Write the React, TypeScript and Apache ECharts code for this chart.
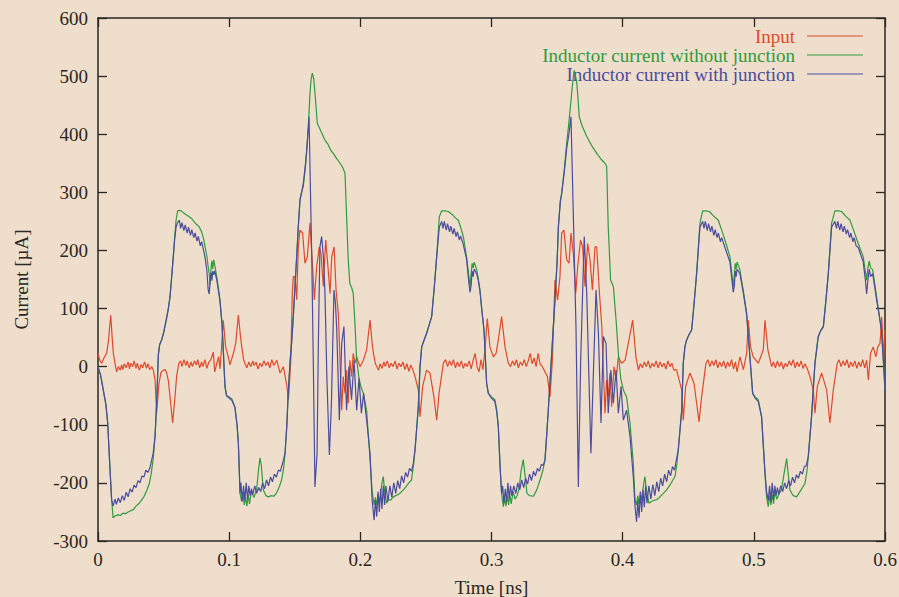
import React, { useEffect, useRef } from "react";
import * as echarts from "echarts";

const xTicks = [0, 0.1, 0.2, 0.3, 0.4, 0.5, 0.6];
const yTicks = [-300, -200, -100, 0, 100, 200, 300, 400, 500, 600];
const seriesNames = ["Input", "Inductor current without junction", "Inductor current with junction"];
const seriesColors = ["#de4a2c", "#2f9c3c", "#4a4c9c"];

const inputData: number[][] = [
  [0,23],[0.0015,10],[0.0028,6],[0.0045,15],[0.0066,23],[0.008,45],[0.0097,89],[0.0108,50],[0.0117,23],[0.013,5],[0.0142,-9],[0.0155,0],[0.017,-6],[0.018,3],[0.019,-5],[0.020,5],[0.0215,-2],[0.023,8],[0.024,-4],[0.025,6],[0.0265,0],[0.0275,10],[0.029,-3],[0.030,6],[0.0315,-6],[0.033,4],[0.034,-2],[0.0355,8],[0.037,-3],[0.038,5],[0.0395,-5],[0.041,0],[0.0422,-6],[0.0435,-23],[0.0447,-80],[0.0465,-29],[0.048,-10],[0.0498,-6],[0.0512,-5],[0.0524,-11],[0.0537,-25],[0.0549,-52],[0.0569,-97],[0.0587,-52],[0.060,-15],[0.0617,6],[0.063,10],[0.064,0],[0.0655,12],[0.067,2],[0.068,10],[0.0695,-2],[0.071,8],[0.072,0],[0.0735,10],[0.075,3],[0.076,12],[0.0775,-2],[0.079,8],[0.080,0],[0.0815,12],[0.083,-3],[0.0845,8],[0.086,12],[0.0879,25],[0.089,-9],[0.0905,5],[0.092,17],[0.093,-4],[0.0941,29],[0.0955,80],[0.0973,34],[0.0993,17],[0.1006,3],[0.1032,23],[0.105,40],[0.107,89],[0.1085,55],[0.1096,34],[0.111,12],[0.112,6],[0.1135,-2],[0.115,8],[0.1165,0],[0.118,10],[0.119,2],[0.1205,8],[0.122,-4],[0.1235,6],[0.125,0],[0.1265,10],[0.128,2],[0.1295,8],[0.131,-2],[0.1325,12],[0.134,2],[0.1363,11],[0.1388,-11],[0.1413,0],[0.1439,-32],[0.1452,-57],[0.147,11],[0.1481,126],[0.1489,155],[0.1502,155],[0.1515,115],[0.1527,206],[0.154,235],[0.156,230],[0.1578,178],[0.1596,189],[0.1616,247],[0.1636,172],[0.1649,115],[0.1667,172],[0.1687,206],[0.170,195],[0.1718,138],[0.1736,218],[0.1751,178],[0.1769,126],[0.1782,189],[0.180,206],[0.1815,132],[0.1832,92],[0.1845,11],[0.1858,-75],[0.187,-17],[0.1883,-46],[0.1895,-6],[0.1908,-63],[0.192,11],[0.1933,-17],[0.1946,23],[0.1959,6],[0.1972,17],[0.1997,0],[0.2023,11],[0.2048,29],[0.2074,80],[0.209,40],[0.210,23],[0.2115,5],[0.2139,-6],[0.215,5],[0.2165,-3],[0.218,8],[0.219,0],[0.2205,10],[0.222,-2],[0.2235,6],[0.225,0],[0.2265,10],[0.228,-4],[0.2295,6],[0.231,0],[0.2325,8],[0.234,-5],[0.2355,5],[0.237,-8],[0.2385,3],[0.240,-5],[0.2417,-17],[0.2442,-40],[0.2455,-86],[0.2475,-34],[0.2505,-6],[0.2531,-11],[0.2561,-52],[0.2582,-92],[0.260,-46],[0.2633,6],[0.265,12],[0.2665,0],[0.268,10],[0.2695,2],[0.271,12],[0.2725,-2],[0.274,8],[0.2755,0],[0.277,10],[0.2785,-3],[0.280,6],[0.2815,0],[0.283,10],[0.2845,-4],[0.286,11],[0.2875,23],[0.289,0],[0.2905,-9],[0.292,12],[0.2935,-5],[0.295,29],[0.2968,83],[0.2988,34],[0.3014,17],[0.3035,23],[0.3052,46],[0.3077,86],[0.3103,34],[0.3128,6],[0.3145,0],[0.316,10],[0.3175,2],[0.319,12],[0.3205,-2],[0.322,8],[0.3235,2],[0.325,12],[0.3265,0],[0.328,10],[0.3295,23],[0.331,5],[0.3325,15],[0.334,0],[0.3355,23],[0.337,5],[0.3388,0],[0.3426,-17],[0.3446,-52],[0.3464,11],[0.3484,149],[0.3504,115],[0.3522,155],[0.3535,230],[0.3552,235],[0.3573,184],[0.3591,178],[0.3606,230],[0.3624,195],[0.3642,126],[0.3657,172],[0.3679,218],[0.3695,206],[0.3713,138],[0.3733,212],[0.3751,184],[0.3769,132],[0.3789,206],[0.3802,206],[0.3823,126],[0.3841,69],[0.3853,-6],[0.3865,-80],[0.3878,-23],[0.389,-52],[0.3903,-11],[0.3916,-69],[0.3934,0],[0.395,-23],[0.3967,17],[0.3992,6],[0.4018,11],[0.4043,40],[0.4076,80],[0.4101,17],[0.412,-6],[0.4135,5],[0.415,-2],[0.4165,8],[0.418,0],[0.4195,10],[0.421,-3],[0.4225,6],[0.424,0],[0.4255,10],[0.427,-2],[0.4285,8],[0.430,0],[0.4315,6],[0.433,-4],[0.4345,10],[0.436,0],[0.4375,6],[0.439,-6],[0.441,-5],[0.4424,-17],[0.445,-40],[0.4462,-92],[0.448,-34],[0.4513,-11],[0.4544,-29],[0.4564,-63],[0.4582,-95],[0.4602,-52],[0.4635,6],[0.465,12],[0.4665,0],[0.468,10],[0.4695,2],[0.471,12],[0.4725,-2],[0.474,8],[0.4755,0],[0.477,10],[0.4785,-3],[0.480,8],[0.4815,0],[0.483,12],[0.4845,-4],[0.486,8],[0.4872,-9],[0.4894,17],[0.492,-5],[0.4945,23],[0.4958,80],[0.4975,34],[0.4995,17],[0.5034,6],[0.5072,29],[0.5085,80],[0.5107,29],[0.5136,0],[0.515,8],[0.5165,-2],[0.518,10],[0.5195,0],[0.521,8],[0.5225,-4],[0.524,6],[0.5255,0],[0.527,10],[0.5285,2],[0.530,12],[0.5315,-2],[0.533,8],[0.5345,0],[0.536,10],[0.5375,-3],[0.539,5],[0.541,-5],[0.5428,-17],[0.5453,-40],[0.5466,-80],[0.5484,-34],[0.5517,-11],[0.5555,-40],[0.558,-97],[0.5606,-40],[0.5636,6],[0.565,12],[0.5665,0],[0.568,10],[0.5695,2],[0.571,12],[0.5725,-2],[0.574,8],[0.5755,0],[0.577,10],[0.5785,-3],[0.580,8],[0.5815,0],[0.583,12],[0.5845,-2],[0.586,11],[0.5873,-23],[0.589,23],[0.591,34],[0.593,17],[0.5945,34],[0.5962,40],[0.5975,86],[0.599,17],[0.6,63]
];

const withoutJunction: number[][] = [
  [0,0],[0.002,-15],[0.004,-40],[0.006,-65],[0.0074,-97],[0.009,-170],[0.0104,-229],[0.0115,-260],[0.013,-257],[0.015,-255],[0.017,-256],[0.019,-252],[0.021,-253],[0.023,-250],[0.025,-248],[0.027,-246],[0.029,-240],[0.031,-236],[0.033,-230],[0.035,-224],[0.037,-214],[0.039,-202],[0.0405,-185],[0.042,-160],[0.0435,-120],[0.0447,-63],[0.046,20],[0.047,38],[0.0485,46],[0.050,58],[0.052,80],[0.0535,98],[0.0549,120],[0.056,150],[0.0574,189],[0.0585,225],[0.0595,252],[0.0607,268],[0.062,269],[0.0635,268],[0.065,265],[0.067,262],[0.069,259],[0.0714,255],[0.073,250],[0.075,245],[0.077,241],[0.079,232],[0.0805,220],[0.0816,207],[0.083,190],[0.084,172],[0.0848,160],[0.0855,140],[0.0862,170],[0.0868,182],[0.0875,168],[0.0882,184],[0.089,175],[0.0905,155],[0.092,132],[0.093,115],[0.0945,75],[0.0955,29],[0.0968,-34],[0.098,-50],[0.100,-52],[0.102,-55],[0.1044,-70],
  [0.106,-100],[0.107,-131],[0.1083,-218],[0.1095,-232],[0.1105,-215],[0.1115,-238],[0.1125,-225],[0.1135,-240],[0.1145,-220],[0.1155,-236],[0.117,-215],[0.119,-225],[0.121,-210],[0.1225,-175],[0.1235,-157],[0.1245,-170],[0.126,-212],[0.128,-222],[0.130,-224],[0.132,-222],[0.134,-223],[0.136,-218],[0.138,-208],[0.140,-195],[0.1415,-175],[0.1426,-149],[0.144,-100],[0.145,-46],[0.1465,10],[0.1476,41],[0.149,90],[0.150,132],[0.1515,190],[0.1527,241],[0.154,287],[0.1555,303],[0.1565,310],[0.158,340],[0.159,367],[0.1605,420],[0.1616,470],[0.1625,495],[0.1634,505],[0.1645,495],[0.1654,471],[0.1665,440],[0.1672,419],[0.169,410],[0.171,400],[0.173,390],[0.1755,382],[0.1775,372],[0.1794,367],[0.182,358],[0.1845,350],[0.1865,343],[0.1883,333],[0.1895,260],[0.1908,183],[0.192,143],[0.1935,135],[0.1946,126],[0.196,70],[0.1972,11],[0.199,-20],[0.2005,-35],[0.2023,-46],[0.2048,-75],[0.2065,-130],[0.2074,-160],[0.209,-215],[0.2105,-238],
  [0.2115,-225],[0.2125,-238],[0.2135,-220],[0.2145,-235],[0.2155,-218],[0.2165,-200],[0.2175,-189],[0.2185,-215],[0.220,-235],[0.2215,-228],[0.223,-230],[0.225,-224],[0.227,-222],[0.229,-220],[0.231,-216],[0.2328,-212],[0.235,-206],[0.237,-200],[0.239,-195],[0.2405,-170],[0.2417,-143],[0.243,-105],[0.2442,-69],[0.2455,0],[0.2468,34],[0.2485,45],[0.2505,57],[0.2525,72],[0.2544,86],[0.2565,140],[0.2582,189],[0.2602,258],[0.262,268],[0.2645,268],[0.2671,267],[0.270,262],[0.2725,256],[0.2747,252],[0.2765,240],[0.2785,224],[0.281,189],[0.2825,160],[0.2836,138],[0.2845,160],[0.2852,178],[0.286,170],[0.2868,180],[0.2887,167],[0.290,150],[0.2912,132],[0.2925,100],[0.2943,63],[0.2963,-29],[0.2976,-46],[0.300,-52],[0.3026,-57],[0.304,-75],[0.3052,-103],[0.3065,-170],[0.3077,-218],[0.309,-241],
  [0.310,-225],[0.311,-240],[0.312,-222],[0.313,-238],[0.314,-220],[0.315,-236],[0.3165,-215],[0.318,-228],[0.3195,-222],[0.321,-210],[0.3225,-180],[0.3242,-160],[0.3255,-185],[0.327,-218],[0.329,-222],[0.332,-223],[0.3345,-212],[0.337,-195],[0.339,-180],[0.3408,-160],[0.342,-120],[0.3433,-75],[0.3459,23],[0.3484,115],[0.350,180],[0.351,241],[0.3525,285],[0.3535,298],[0.3555,340],[0.3573,384],[0.359,420],[0.3611,470],[0.3622,495],[0.3631,510],[0.364,500],[0.365,490],[0.366,460],[0.3669,430],[0.369,415],[0.3726,396],[0.3765,380],[0.3802,367],[0.3835,357],[0.3865,350],[0.3878,345],[0.389,241],[0.3908,149],[0.3929,138],[0.395,80],[0.3967,23],[0.3985,-20],[0.4005,-40],[0.403,-52],[0.4043,-75],
  [0.4056,-97],[0.4081,-166],[0.4094,-229],[0.4105,-238],[0.4115,-222],[0.4125,-236],[0.4135,-218],[0.4145,-230],[0.4155,-210],[0.4165,-195],[0.417,-189],[0.418,-210],[0.420,-235],[0.422,-232],[0.424,-230],[0.4259,-229],[0.428,-225],[0.431,-218],[0.4335,-212],[0.4365,-202],[0.4399,-189],[0.4412,-170],[0.4424,-143],[0.445,-75],[0.4462,6],[0.4475,35],[0.4488,46],[0.4505,55],[0.4526,63],[0.4545,110],[0.4564,161],[0.4589,247],[0.461,268],[0.4635,268],[0.4661,267],[0.469,260],[0.4729,252],[0.4755,235],[0.478,218],[0.4818,189],[0.483,165],[0.4843,138],[0.4852,160],[0.4858,178],[0.4865,168],[0.4872,180],[0.4894,167],[0.4905,150],[0.4919,132],[0.4945,92],[0.497,17],[0.4991,-46],[0.501,-52],[0.5034,-57],[0.5059,-86],[0.5085,-183],[0.5097,-224],[0.511,-241],
  [0.512,-222],[0.513,-238],[0.514,-220],[0.515,-236],[0.516,-215],[0.5175,-228],[0.519,-220],[0.521,-212],[0.523,-185],[0.525,-158],[0.526,-180],[0.5275,-212],[0.530,-222],[0.5326,-224],[0.536,-212],[0.539,-201],[0.5405,-180],[0.5415,-155],[0.544,-86],[0.5466,6],[0.5491,52],[0.551,62],[0.553,69],[0.555,115],[0.5568,161],[0.5593,247],[0.5618,268],[0.5645,268],[0.5669,267],[0.570,259],[0.5733,252],[0.5765,232],[0.5796,212],[0.5834,189],[0.585,165],[0.586,149],[0.587,170],[0.588,182],[0.589,170],[0.5906,167],[0.592,145],[0.5936,120],[0.5955,90],[0.5974,63],[0.599,0],[0.6,-40]
];

const withJunction: number[][] = [
  [0,0],[0.002,-15],[0.004,-40],[0.006,-65],[0.0074,-97],[0.009,-170],[0.0104,-229],[0.0115,-240],[0.013,-228],[0.014,-237],[0.0155,-226],[0.017,-234],[0.0185,-222],[0.020,-230],[0.0215,-216],[0.023,-224],[0.0245,-210],[0.026,-216],[0.0275,-204],[0.029,-208],[0.0305,-196],[0.032,-200],[0.0335,-188],[0.035,-190],[0.0365,-178],[0.038,-182],[0.0395,-175],[0.041,-160],[0.042,-150],[0.0435,-120],[0.0447,-63],[0.046,20],[0.047,38],[0.0485,46],[0.050,58],[0.052,80],[0.0535,98],[0.0549,120],[0.056,150],[0.0574,189],[0.0585,220],[0.0595,240],[0.0607,248],[0.062,252],[0.063,238],[0.064,248],[0.0655,234],[0.0665,244],[0.068,230],[0.069,240],[0.0705,226],[0.0715,236],[0.073,222],[0.074,230],[0.0755,216],[0.0765,224],[0.078,208],[0.079,215],[0.0805,200],[0.0816,188],[0.083,165],[0.084,132],[0.0848,125],[0.0855,150],[0.0862,162],[0.0868,148],[0.0875,165],[0.0882,158],[0.089,165],[0.0905,150],[0.092,128],[0.093,112],[0.0945,75],[0.0955,29],[0.0968,-34],[0.098,-50],[0.100,-54],[0.102,-58],[0.1044,-70],
  [0.106,-100],[0.107,-131],[0.1083,-218],[0.109,-200],[0.110,-232],[0.111,-205],[0.112,-230],[0.113,-200],[0.114,-228],[0.115,-205],[0.116,-222],[0.117,-210],[0.118,-220],[0.1195,-205],[0.121,-218],[0.1225,-208],[0.124,-215],[0.1255,-200],[0.127,-210],[0.1285,-195],[0.130,-205],[0.1315,-190],[0.133,-198],[0.1345,-185],[0.136,-190],[0.1375,-178],[0.139,-180],[0.1405,-168],[0.1415,-160],[0.1426,-149],[0.144,-100],[0.145,-46],[0.1465,10],[0.1476,41],[0.149,90],[0.150,132],[0.1515,190],[0.1527,241],[0.154,287],[0.1555,303],[0.1565,315],[0.158,345],[0.159,370],[0.160,400],[0.1609,430],[0.162,300],[0.163,184],[0.1642,0],[0.1654,-207],[0.167,-150],[0.168,40],[0.1692,206],[0.1705,224],[0.1718,190],[0.173,130],[0.1745,-20],[0.1764,-152],[0.178,-60],[0.1799,132],[0.181,110],[0.182,65],[0.184,-92],[0.1858,40],[0.1875,69],[0.1895,-75],[0.1913,0],[0.1933,-57],[0.1952,11],[0.1972,-75],[0.199,-20],[0.2008,-80],[0.2025,-46],[0.2048,-92],[0.2074,-149],[0.209,-230],[0.2105,-264],
  [0.2115,-230],[0.2125,-258],[0.2135,-215],[0.2145,-250],[0.2155,-210],[0.2165,-245],[0.2175,-205],[0.2185,-238],[0.2195,-205],[0.221,-232],[0.2225,-205],[0.224,-225],[0.2255,-200],[0.227,-218],[0.2285,-196],[0.230,-210],[0.2315,-188],[0.233,-200],[0.2345,-182],[0.236,-190],[0.2375,-175],[0.239,-180],[0.2405,-165],[0.2417,-143],[0.243,-105],[0.2442,-69],[0.2455,0],[0.2468,34],[0.2485,45],[0.2505,57],[0.2525,72],[0.2544,86],[0.2565,140],[0.2582,189],[0.2602,240],[0.262,250],[0.263,238],[0.264,250],[0.2655,235],[0.2665,246],[0.268,232],[0.269,242],[0.2705,228],[0.2715,238],[0.273,224],[0.274,232],[0.2755,218],[0.2765,225],[0.2785,210],[0.281,185],[0.2825,150],[0.2836,128],[0.2845,140],[0.2852,165],[0.286,155],[0.2868,168],[0.2887,160],[0.290,148],[0.2912,130],[0.2925,100],[0.2943,63],[0.2963,-29],[0.2976,-46],[0.300,-54],[0.3026,-60],[0.304,-78],[0.3052,-103],[0.3065,-170],[0.3077,-218],
  [0.3085,-205],[0.3095,-235],[0.3105,-210],[0.3115,-232],[0.3125,-200],[0.3135,-228],[0.3145,-205],[0.3155,-222],[0.317,-205],[0.3185,-218],[0.320,-200],[0.3215,-212],[0.323,-195],[0.3245,-208],[0.326,-192],[0.3275,-202],[0.329,-185],[0.3305,-196],[0.332,-180],[0.3335,-188],[0.335,-175],[0.3365,-180],[0.338,-168],[0.3395,-170],[0.3408,-160],[0.342,-120],[0.3433,-75],[0.3459,23],[0.3484,115],[0.350,180],[0.351,241],[0.3525,285],[0.3535,298],[0.3555,335],[0.3573,375],[0.359,400],[0.3606,430],[0.3625,250],[0.3644,69],[0.3662,-207],[0.368,11],[0.3707,224],[0.3726,126],[0.3758,-149],[0.3776,-17],[0.3797,132],[0.3815,57],[0.3835,-97],[0.3853,52],[0.3873,40],[0.389,-80],[0.391,-6],[0.3929,-63],[0.395,-6],[0.3967,-80],[0.3988,-34],[0.4005,-92],[0.403,-75],[0.4056,-120],[0.4081,-190],[0.4094,-240],[0.4106,-267],
  [0.4115,-230],[0.4125,-260],[0.4135,-215],[0.4145,-250],[0.4155,-212],[0.4165,-242],[0.4175,-205],[0.4185,-235],[0.420,-205],[0.4215,-228],[0.423,-203],[0.4245,-222],[0.426,-198],[0.4275,-215],[0.429,-192],[0.4305,-205],[0.432,-185],[0.4335,-198],[0.435,-178],[0.4365,-188],[0.438,-172],[0.4395,-178],[0.441,-160],[0.4424,-143],[0.445,-75],[0.4462,6],[0.4475,35],[0.4488,46],[0.4505,55],[0.4526,63],[0.4545,110],[0.4564,161],[0.4589,240],[0.461,250],[0.462,238],[0.463,250],[0.4645,234],[0.4655,246],[0.467,232],[0.468,242],[0.4695,226],[0.4705,236],[0.472,222],[0.473,230],[0.4745,215],[0.4755,222],[0.478,205],[0.4818,180],[0.483,155],[0.4843,128],[0.4852,140],[0.4858,165],[0.4865,155],[0.4872,168],[0.4894,160],[0.4905,146],[0.4919,128],[0.4945,90],[0.497,17],[0.4991,-46],[0.501,-54],[0.5034,-60],[0.5059,-86],[0.5085,-183],[0.5097,-215],
  [0.511,-230],[0.512,-205],[0.513,-232],[0.514,-200],[0.515,-228],[0.516,-205],[0.517,-222],[0.518,-208],[0.519,-220],[0.5205,-205],[0.522,-215],[0.5235,-200],[0.525,-210],[0.5265,-196],[0.528,-205],[0.5295,-190],[0.531,-200],[0.5325,-186],[0.534,-192],[0.5355,-180],[0.537,-185],[0.5385,-172],[0.540,-170],[0.5415,-155],[0.544,-86],[0.5466,6],[0.5491,52],[0.551,62],[0.553,69],[0.555,115],[0.5568,161],[0.5593,240],[0.5618,250],[0.563,238],[0.564,250],[0.5655,235],[0.5665,246],[0.568,232],[0.569,242],[0.5705,228],[0.5715,236],[0.573,222],[0.574,230],[0.5755,215],[0.5765,222],[0.578,208],[0.5796,205],[0.5834,180],[0.585,150],[0.586,125],[0.587,150],[0.588,168],[0.589,155],[0.5906,160],[0.592,140],[0.5936,115],[0.5955,90],[0.5974,60],[0.599,0],[0.6,-40]
];

const FONT = "'Liberation Serif', 'DejaVu Serif', serif";
const INK = "#2a2622";
const BG = "#f0decd";

export default function App() {
  const ref = useRef<HTMLDivElement>(null);
  useEffect(() => {
    document.body.style.margin = "0";
    document.body.style.background = BG;
    const chart = echarts.init(ref.current!, null, { renderer: "svg" });
    const axisLine = { show: true, onZero: false, lineStyle: { color: INK, width: 1.5 } };
    const tick = { show: true, inside: true, length: 9, lineStyle: { color: INK, width: 1.3 } };
    const xMin = xTicks[0], xMax = xTicks[xTicks.length - 1];
    const yMin = yTicks[0], yMax = yTicks[yTicks.length - 1];
    const datasets = [inputData, withoutJunction, withJunction];

    const legendRows = [36, 55, 74];
    const legendGraphics: any[] = [];
    seriesNames.forEach((n, i) => {
      legendGraphics.push({
        type: "text",
        x: 795,
        y: legendRows[i],
        silent: true,
        style: {
          text: n,
          fill: seriesColors[i],
          font: `19px ${FONT}`,
          textAlign: "right",
          textVerticalAlign: "middle",
        },
      });
      legendGraphics.push({
        type: "line",
        silent: true,
        shape: { x1: 807, y1: legendRows[i], x2: 863, y2: legendRows[i] },
        style: { stroke: seriesColors[i], lineWidth: 1.2 },
      });
    });

    chart.setOption({
      animation: false,
      backgroundColor: BG,
      grid: { left: 98, right: 14, top: 18, bottom: 56, containLabel: false, outerBoundsMode: "none" },
      graphic: legendGraphics,
      xAxis: [
        {
          type: "value", min: xMin, max: xMax, interval: 0.1, position: "bottom",
          name: "Time [ns]", nameLocation: "middle", nameGap: 37,
          nameTextStyle: { fontFamily: FONT, fontSize: 19, color: INK },
          axisLine, axisTick: tick, splitLine: { show: false },
          axisLabel: { fontFamily: FONT, fontSize: 19, color: INK, margin: 9 },
        },
        {
          type: "value", min: xMin, max: xMax, interval: 0.1, position: "top",
          axisLine, axisTick: tick, splitLine: { show: false }, axisLabel: { show: false },
        },
      ],
      yAxis: [
        {
          type: "value", min: yMin, max: yMax, interval: 100, position: "left",
          name: "Current [µA]", nameLocation: "middle", nameGap: 67, nameRotate: 90,
          nameTextStyle: { fontFamily: FONT, fontSize: 19, color: INK },
          axisLine, axisTick: tick, splitLine: { show: false },
          axisLabel: { fontFamily: FONT, fontSize: 19, color: INK, margin: 10 },
        },
        {
          type: "value", min: yMin, max: yMax, interval: 100, position: "right",
          axisLine, axisTick: tick, splitLine: { show: false }, axisLabel: { show: false },
        },
      ],
      series: seriesNames.map((n, i) => ({
        name: n,
        type: "line",
        xAxisIndex: 0,
        yAxisIndex: 0,
        data: datasets[i],
        showSymbol: false,
        symbol: "none",
        lineStyle: { color: seriesColors[i], width: 1.2 },
        itemStyle: { color: seriesColors[i] },
        silent: true,
      })),
    });
    return () => chart.dispose();
  }, []);
  return <div ref={ref} style={{ position: "fixed", left: 0, top: 0, width: 899, height: 597 }} />;
}
